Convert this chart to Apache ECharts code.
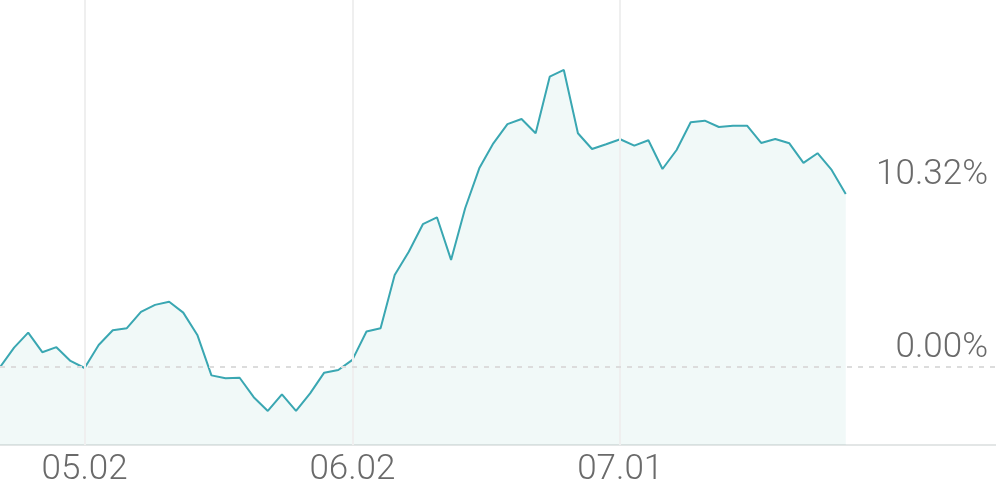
<!DOCTYPE html>
<html>
<head>
<meta charset="utf-8">
<script src="https://cdn.jsdelivr.net/npm/echarts@6/dist/echarts.min.js"></script>
<style>
html,body{margin:0;padding:0;background:#fff;}
#chart{width:996px;height:490px;}
</style>
</head>
<body>
<div id="chart"></div>
<script>
// Cumulative return (%) per trading day, index 0..60
const returns = [
  0.00, 1.16, 2.06, 0.89, 1.19, 0.37, -0.05, 1.32, 2.20, 2.32,
  3.29, 3.71, 3.90, 3.25, 1.92, -0.49, -0.66, -0.63, -1.79, -2.61,
  -1.62, -2.61, -1.56, -0.33, -0.17, 0.43, 2.12, 2.32, 5.49, 6.88,
  8.52, 8.93, 6.39, 9.47, 11.85, 13.34, 14.48, 14.79, 13.94, 17.31,
  17.71, 13.94, 13.00, 13.28, 13.58, 13.20, 13.52, 11.81, 12.94, 14.59,
  14.69, 14.31, 14.39, 14.39, 13.36, 13.60, 13.34, 12.17, 12.75, 11.75,
  10.32
];
// x-axis tick labels and their day indices
const tickIndices = [6, 25, 44];
const tickLabels = ['05.02', '06.02', '07.01'];
// right-side value labels
const baseValue = 0;
const lastValue = returns[returns.length - 1];

const seriesData = returns.map((v, i) => [i, v]);

const chart = echarts.init(document.getElementById('chart'));
const font = 'Roboto, "Noto Sans", sans-serif';
const txtColor = '#6a6a6a';
chart.setOption({
  animation: false,
  grid: { left: 0, right: 0, top: 0, bottom: 45 },
  xAxis: {
    type: 'value',
    min: 0,
    max: 70.66,
    axisLine: { show: true, onZero: false, lineStyle: { color: '#e3e6e6', width: 2 } },
    axisTick: { show: false },
    splitLine: { show: false },
    axisLabel: {
      customValues: tickIndices,
      formatter: (v) => tickLabels[tickIndices.indexOf(Math.round(v))] || '',
      color: txtColor,
      fontFamily: font,
      fontWeight: 300,
      fontSize: 35,
      margin: 8
    }
  },
  yAxis: {
    type: 'value',
    min: -4.64,
    max: 21.88,
    show: false,
    splitLine: { show: false }
  },
  series: [
    {
      type: 'line',
      data: [],
      z: 1,
      silent: true,
      markLine: {
        silent: true,
        symbol: 'none',
        label: { show: false },
        lineStyle: { type: 'solid', color: '#efefef', width: 2 },
        data: tickIndices.map(i => ({ xAxis: i }))
      }
    },
    {
      type: 'line',
      data: seriesData,
      z: 3,
      showSymbol: false,
      symbol: 'none',
      lineStyle: { color: '#3aa7b2', width: 2 },
      itemStyle: { color: '#3aa7b2' },
      areaStyle: { color: 'rgba(60,170,150,0.10)', origin: 'start' },
      markLine: {
        silent: true,
        symbol: 'none',
        data: [
          {
            yAxis: baseValue,
            lineStyle: { type: [5, 6], color: '#dcdcdc', width: 2 },
            label: {
              show: true, position: 'insideEndTop',
              formatter: baseValue.toFixed(2) + '%',
              color: txtColor, fontFamily: font, fontWeight: 300, fontSize: 35, distance: [8, 1]
            }
          },
          {
            yAxis: lastValue,
            lineStyle: { color: 'rgba(0,0,0,0)', width: 0 },
            label: {
              show: true, position: 'insideEndTop',
              formatter: lastValue.toFixed(2) + '%',
              color: txtColor, fontFamily: font, fontWeight: 300, fontSize: 35, distance: [8, 1]
            }
          }
        ]
      }
    }
  ]
});
</script>
</body>
</html>
